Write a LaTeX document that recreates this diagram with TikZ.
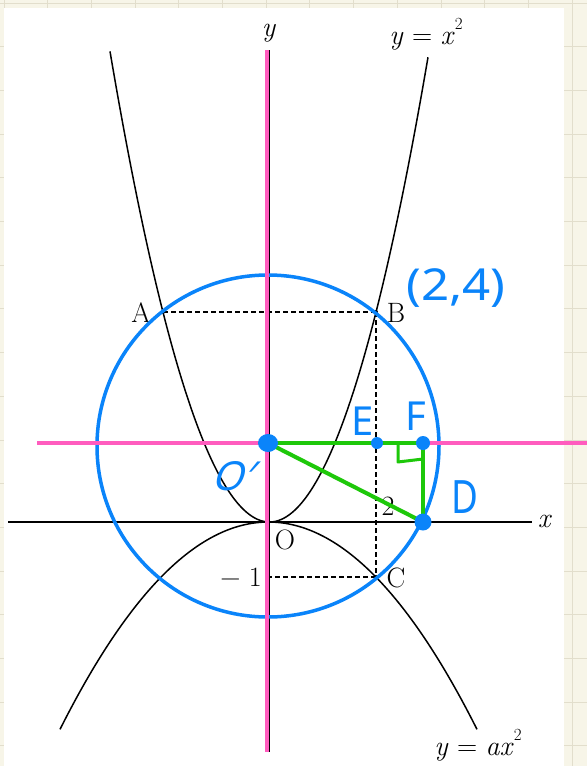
\documentclass[tikz,border=0pt]{standalone}
\usepackage{fontspec}
\usetikzlibrary{shapes.geometric}
\newfontfamily\handfont{Noto Sans}
\definecolor{pinkline}{RGB}{255,92,190}
\definecolor{circblue}{RGB}{10,132,250}
\definecolor{greenline}{RGB}{30,200,10}
\definecolor{marginc}{RGB}{247,245,232}
\definecolor{gridc}{RGB}{226,222,204}
\newcommand{\vi}[1]{\textit{#1}}
\newcommand{\sq}{\raisebox{0.55em}{\fontsize{17}{19}\selectfont 2}}
\begin{document}
\begin{tikzpicture}[x=1pt,y=-1pt,
  curve/.style={line width=1.5pt, black},
  axisline/.style={line width=1.3pt, black},
  dashline/.style={line width=1.2pt, black, dash pattern=on 5pt off 3pt},
  pinkl/.style={line width=4.5pt, pinkline},
  greenl/.style={line width=4pt, greenline},
  lab/.style={font=\fontsize{28}{32}\selectfont, inner sep=0pt},
  hand/.style={font=\handfont\fontsize{40}{44}\selectfont, text=circblue, inner sep=0pt},
  blackdot/.style={circle, fill=black, inner sep=0pt, minimum size=4pt},
  bluedot/.style={fill=circblue, inner sep=0pt}]
\useasboundingbox (0,0) rectangle (587,766);
% background paper
\fill[marginc] (0,0) rectangle (587,766);
\foreach \i in {0,...,13} {\draw[gridc, line width=1pt] ({4+43.7*\i},0) -- ({4+43.7*\i},766);}
\foreach \i in {0,...,17} {\draw[gridc, line width=1pt] (0,{3+43.7*\i}) -- (587,{3+43.7*\i});}
\fill[white] (3.5,8) rectangle (564,766);

% key points
\coordinate (O) at (267,522);
\coordinate (xl) at (8,522);
\coordinate (xr) at (532,522);
\coordinate (yt) at (269,50);
\coordinate (yb) at (269,752);
\coordinate (A) at (163,312);
\coordinate (B) at (376,312);
\coordinate (C) at (376,577);
\coordinate (M) at (267,577);
\coordinate (Op) at (268,443);
\coordinate (E) at (377,443);
\coordinate (F) at (423,443);
\coordinate (D) at (423,522);
\coordinate (Cc) at (268,446);
\coordinate (pt) at (267,50);
\coordinate (pb) at (267,752);
\coordinate (pl) at (37,443);
\coordinate (pr) at (587,443);
\coordinate (r1) at (398,445);
\coordinate (r2) at (398,462);
\coordinate (r3) at (423,459);

% axes
\draw[axisline] (xl) -- (xr);
\draw[axisline] (yt) -- (yb);

% parabolas
\draw[curve] plot[domain=110:428, samples=120, smooth] (\x, {522 - 185*((\x-269.5)/100)*((\x-269.5)/100)});
\draw[curve] plot[domain=60:477, samples=120, smooth] (\x, {522 + 47.7*((\x-268.5)/100)*((\x-268.5)/100)});

% dashed guides
\draw[dashline] (A) -- (B);
\draw[dashline] (B) -- (C);
\draw[dashline] (M) -- (C);

% points
\node[blackdot] at (A) {};
\node[blackdot] at (B) {};
\node[blackdot] at (C) {};

% textbook labels
\node[lab] (ly) at (269,33) {\vi{y}};
\node[lab] (lyx) at (426,34) {\vi{y} = \vi{x}\sq};
\node[lab] (lA) at (141,313) {A};
\node[lab] (lB) at (396,313) {B};
\node[lab] (lC) at (396,578) {C};
\node[lab] (lO) at (285,540) {O};
\node[lab] (l2) at (388,506) {2};
\node[lab, anchor=east] (lm1) at (262,577) {− 1};
\node[lab] (lx) at (545,521) {\vi{x}};
\node[lab] (lyax) at (478,745) {\vi{y} = \vi{ax}\sq};

% blue circle
\draw[circblue, line width=3.5pt] (Cc) circle[radius=171];

% pink lines
\draw[pinkl] (pt) -- (pb);
\draw[pinkl] (pl) -- (pr);

% green triangle
\draw[greenl] (Op) -- (F);
\draw[greenl] (F) -- (D);
\draw[greenl] (Op) -- (D);
\draw[greenline, line width=3pt, line join=round] (r1) -- (r2) -- (r3);

% blue dots
\node[bluedot, ellipse, minimum width=20pt, minimum height=18pt] at (Op) {};
\node[bluedot, circle, minimum size=12pt] at (E) {};
\node[bluedot, circle, minimum size=14pt] at (F) {};
\node[bluedot, circle, minimum size=17pt] at (D) {};

% handwritten labels
\node[hand, font=\handfont\fontsize{44}{48}\selectfont, xscale=1.12] (h24) at (456,288) {(2,4)};
\node[hand] (hE) at (363,421) {E};
\node[hand] (hF) at (416,416) {F};
\node[hand, font=\handfont\fontsize{46}{50}\selectfont, xscale=0.8] (hD) at (465,497) {D};
\node[hand, xslant=0.3] (hO) at (236,476) {O′};
\end{tikzpicture}
\end{document}
